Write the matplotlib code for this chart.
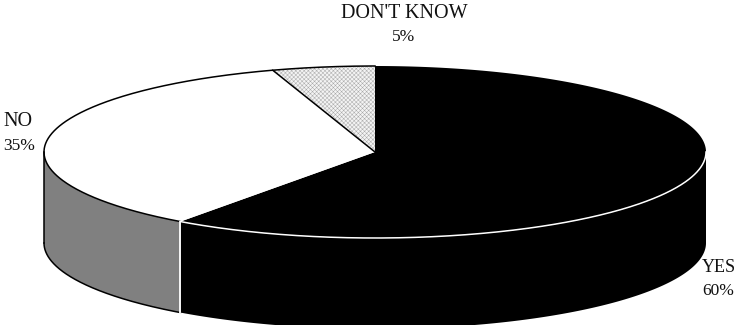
import numpy as np
import matplotlib
matplotlib.use("Agg")
import matplotlib.pyplot as plt

# shares, clockwise from twelve o'clock
labels = ["YES", "NO", "DON'T KNOW"]
shares = [60, 35, 5]

# pie geometry in pixels
CX, CY = 375, 152
RX, RY = 331, 86
DEPTH = 91

plt.rcParams["font.family"] = ["Liberation Serif", "DejaVu Serif"]
plt.rcParams["hatch.linewidth"] = 0.35

fig = plt.figure(figsize=(7.36, 3.25), dpi=100)
ax = fig.add_axes([0, 0, 1, 1])
ax.set_xlim(0, 736)
ax.set_ylim(325, 0)
ax.axis("off")


def arc(start, stop, dy=0):
    # angles are clockwise from the top of the ellipse
    t = np.radians(np.linspace(start, stop, 300))
    return CX + RX * np.sin(t), CY - RY * np.cos(t) + dy


edges = np.concatenate([[0], np.cumsum(shares)]) * 3.6

yes_start, yes_stop = edges[0], edges[1]
no_start, no_stop = edges[1], edges[2]

# side walls, only the front half of the ellipse shows (90..270 deg)
x, y = arc(90, yes_stop)
xb, yb = arc(yes_stop, 90, DEPTH)
ax.fill(np.r_[x, xb], np.r_[y, yb], color="black", lw=0, zorder=1)

x, y = arc(yes_stop, 270)
xb, yb = arc(270, yes_stop, DEPTH)
ax.fill(np.r_[x, xb], np.r_[y, yb], facecolor="#808080", edgecolor="none", zorder=1)
ax.plot(xb, yb, color="black", lw=1.1, zorder=3)
ax.plot([xb[0], xb[0]], [y[-1], yb[0]], color="black", lw=1.1, zorder=3)

# top faces
x, y = arc(yes_start, yes_stop)
ax.fill(np.r_[CX, x], np.r_[CY, y], color="black", lw=0, zorder=2)

x, y = arc(no_start, no_stop)
ax.fill(np.r_[CX, x], np.r_[CY, y], facecolor="white", edgecolor="none", zorder=2)
ax.plot(np.r_[x, CX], np.r_[y, CY], color="black", lw=1.1, zorder=3)

x, y = arc(no_stop, 360)
ax.fill(np.r_[CX, x], np.r_[CY, y], facecolor="#f4f4f4", edgecolor="#aaaaaa",
        hatch="////////\\\\\\\\\\\\\\\\", lw=0, zorder=2)
ax.plot(x, y, color="black", lw=1.1, zorder=3)

# white seam between top and wall on the black slice, and down the wall
x, y = arc(90, yes_stop)
ax.plot(x, y, color="white", lw=1.1, zorder=4)
ax.plot([x[-1], x[-1]], [y[-1], y[-1] + DEPTH], color="white", lw=1.3, zorder=4)

# labels, caps run wider than the digits in the original face
ax.text(404, 13.5, labels[2], ha="center", va="center", fontsize=14.5, color="#111111")
ax.text(404, 37, f"{shares[2]}%", ha="center", va="center", fontsize=12.5, color="#111111")
ax.text(3, 121.5, labels[1], ha="left", va="center", fontsize=14.5, color="#111111")
ax.text(3, 146, f"{shares[1]}%", ha="left", va="center", fontsize=12.5, color="#111111")
ax.text(702, 267, labels[0], ha="left", va="center", fontsize=13, color="#111111")
ax.text(702, 291, f"{shares[0]}%", ha="left", va="center", fontsize=12.5, color="#111111")

fig.savefig("out.png", dpi=100)
